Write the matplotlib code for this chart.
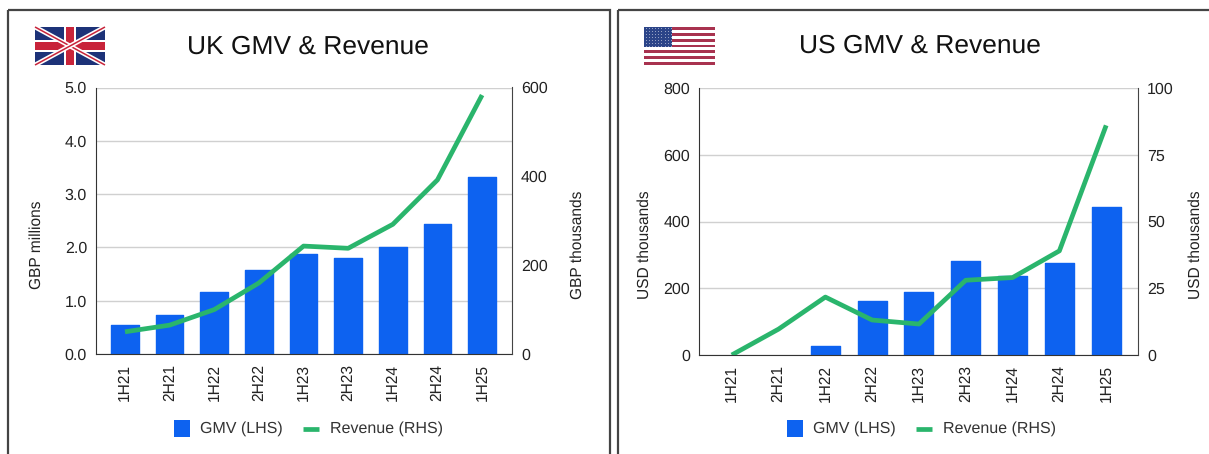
import numpy as np
import matplotlib
matplotlib.use("Agg")
import matplotlib.pyplot as plt
from matplotlib.patches import Rectangle
from matplotlib.lines import Line2D

plt.rcParams['font.family'] = ['Liberation Sans', 'DejaVu Sans']
plt.rcParams['text.hinting'] = 'no_hinting'

W, H = 1209, 454

periods = ['1H21', '2H21', '1H22', '2H22', '1H23', '2H23', '1H24', '2H24', '1H25']

# values
uk_gmv = [0.54, 0.73, 1.16, 1.58, 1.87, 1.80, 2.00, 2.44, 3.33]
uk_rev = [50, 65, 100, 160, 243, 238, 292, 392, 583]
us_gmv = [0, 0, 27, 162, 190, 282, 238, 277, 443]
us_rev = [0, 9.7, 21.7, 13.1, 11.6, 28, 29, 39, 86]

uk_left_ticks = [0, 1, 2, 3, 4, 5]
uk_right_ticks = [0, 200, 400, 600]
us_left_ticks = [0, 200, 400, 600, 800]
us_right_ticks = [0, 25, 50, 75, 100]

BLUE = '#0d62f0'
GREEN = '#2ab56c'
TXT = '#222222'

fig = plt.figure(figsize=(W / 100, H / 100), dpi=100)

# overlay in pixel coords for the panel frames and flags
bg = fig.add_axes([0, 0, 1, 1], zorder=0)
bg.set_xlim(0, W)
bg.set_ylim(H, 0)
bg.axis('off')
bg.add_patch(Rectangle((8, 10), 602, 460, fc='none', ec='#444444', lw=1.6))
bg.add_patch(Rectangle((618, 10), 600, 460, fc='none', ec='#444444', lw=1.6))


def uk_flag(ax, x, y, w, h):
    navy, red = '#1d3278', '#c8243a'
    ax.add_patch(Rectangle((x, y), w, h, fc=navy, ec='none'))
    for a, b in [((x, y), (x + w, y + h)), ((x, y + h), (x + w, y))]:
        ax.plot([a[0], b[0]], [a[1], b[1]], color='white', lw=3.4, solid_capstyle='butt')
        ax.plot([a[0], b[0]], [a[1], b[1]], color=red, lw=1.1, solid_capstyle='butt')
    ax.add_patch(Rectangle((x + w * 0.41, y), w * 0.18, h, fc='white', ec='none'))
    ax.add_patch(Rectangle((x, y + h * 0.34), w, h * 0.32, fc='white', ec='none'))
    ax.add_patch(Rectangle((x + w * 0.44, y), w * 0.12, h, fc=red, ec='none'))
    ax.add_patch(Rectangle((x, y + h * 0.39), w, h * 0.22, fc=red, ec='none'))


def us_flag(ax, x, y, w, h):
    red = '#a8324f'
    n = 13
    for i in range(n):
        c = red if i % 2 == 0 else 'white'
        ax.add_patch(Rectangle((x, y + i * h / n), w, h / n, fc=c, ec='none'))
    cw, ch = w * 0.40, h * 7 / n
    ax.add_patch(Rectangle((x, y), cw, ch, fc='#2b4488', ec='none'))
    for r in range(7):
        for c in range(9):
            ax.plot(x + (c + 0.5) * cw / 9, y + (r + 0.5) * ch / 7, '.', color='#d8dcec', ms=1.0, mew=0)


uk_flag(bg, 35, 27, 70, 38)
us_flag(bg, 644, 27, 71, 38)


def panel(box, title, title_pos, gmv, rev, lticks, rticks, lfmt, xlim, llabel, rlabel, label_xs, legend_x):
    x0, y0, x1, y1 = box
    ax = fig.add_axes([x0 / W, 1 - y1 / H, (x1 - x0) / W, (y1 - y0) / H], zorder=1)
    ax.patch.set_alpha(0)
    x = np.arange(len(periods))
    # thin round edge gives the slightly rounded bar corners, none for empty bars
    ax.bar(x, gmv, width=0.62, color=BLUE, edgecolor=BLUE, joinstyle='round',
           linewidth=[1.0 if v > 0 else 0 for v in gmv], zorder=2)
    ax.set_xlim(*xlim)
    ax.set_ylim(lticks[0], lticks[-1])
    ax.set_yticks(lticks)
    ax.set_yticklabels([lfmt.format(v) for v in lticks], fontsize=11.5, color=TXT)
    ax.set_xticks(x)
    ax.set_xticklabels(periods, rotation=90, fontsize=11.2, color=TXT)
    ax.tick_params(length=0, pad=6.5)
    ax.tick_params(axis='x', pad=7)
    ax.grid(axis='y', color='#d0d0d0', lw=1.0, zorder=0)
    ax.set_axisbelow(True)
    ax.spines['top'].set_visible(False)
    ax.spines['right'].set_visible(False)
    ax.spines['left'].set_color('#333333')
    ax.spines['bottom'].set_color('#333333')

    ax2 = ax.twinx()
    ax2.plot(x, rev, color=GREEN, lw=3.4, solid_joinstyle='round', solid_capstyle='butt', zorder=3)
    ax2.set_ylim(rticks[0], rticks[-1])
    ax2.set_yticks(rticks)
    ax2.set_yticklabels([str(v) for v in rticks], fontsize=11.5, color=TXT)
    ax2.tick_params(length=0, pad=6.5)
    for s in ['top', 'left', 'bottom']:
        ax2.spines[s].set_visible(False)
    ax2.spines['right'].set_color('#444444')

    fig.text(title_pos[0] / W, 1 - title_pos[1] / H, title, fontsize=19, ha='center', va='center', color='#111111')
    fig.text(label_xs[0] / W, 1 - 245 / H, llabel, rotation=90, fontsize=11.2,
             ha='center', va='center', color=TXT)
    fig.text(label_xs[1] / W, 1 - 245 / H, rlabel, rotation=90, fontsize=11.2,
             ha='center', va='center', color=TXT)

    # legend drawn by hand so it sits where the original has it
    bg.add_patch(Rectangle((legend_x, 420), 16, 17, fc=BLUE, ec='none'))
    bg.text(legend_x + 26, 428.5, 'GMV (LHS)', fontsize=11.5, va='center', color='#333333')
    bg.add_line(Line2D([legend_x + 129, legend_x + 145], [428.5, 428.5], color=GREEN, lw=3.4, solid_capstyle='butt'))
    bg.text(legend_x + 156, 428.5, 'Revenue (RHS)', fontsize=11.5, va='center', color='#333333')


panel((96, 87.5, 512, 354), 'UK GMV & Revenue', (308, 47), uk_gmv, uk_rev, uk_left_ticks, uk_right_ticks,
      '{:.1f}', (-0.65, 8.67), 'GBP millions', 'GBP thousands', (37, 578), 174)
panel((699, 88, 1138, 355), 'US GMV & Revenue', (920, 46), us_gmv, us_rev, us_left_ticks, us_right_ticks,
      '{:d}', (-0.70, 8.68), 'USD thousands', 'USD thousands', (645, 1196), 787)

fig.savefig('out.png', dpi=100)
